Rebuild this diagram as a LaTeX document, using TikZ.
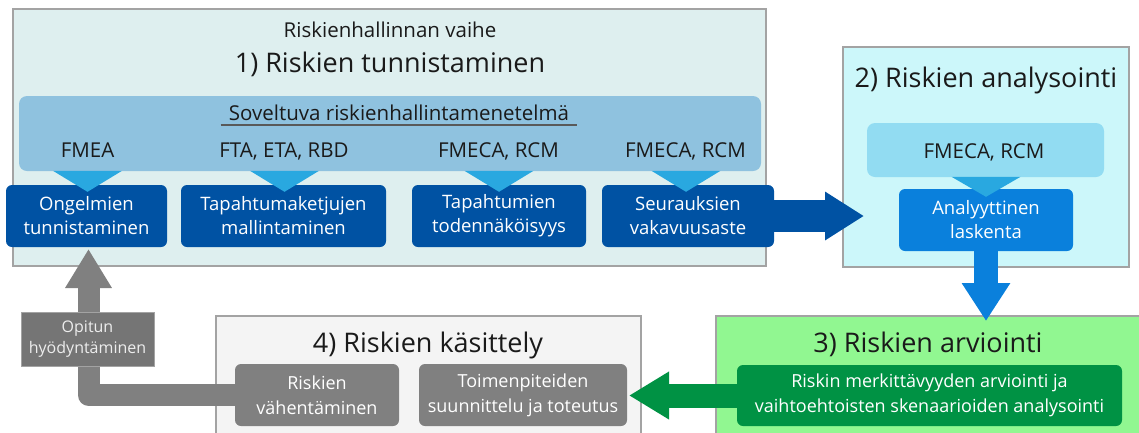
\documentclass[tikz,border=0pt]{standalone}
\usepackage{fontspec}
\setmainfont{Open Sans}
\usetikzlibrary{arrows.meta}

\definecolor{edgegray}{HTML}{A3A3A3}
\definecolor{inkdark}{HTML}{1A1A1A}
\definecolor{phaseone}{HTML}{DEEFEF}
\definecolor{phasetwo}{HTML}{CCF7FA}
\definecolor{phasethree}{HTML}{91F791}
\definecolor{phasefour}{HTML}{F4F4F4}
\definecolor{methodband}{HTML}{8FC2DF}
\definecolor{methodbandlight}{HTML}{92DCF2}
\definecolor{pointer}{HTML}{29A8E0}
\definecolor{stageblue}{HTML}{0052A3}
\definecolor{calcblue}{HTML}{0A80DC}
\definecolor{evalgreen}{HTML}{009244}
\definecolor{treatgray}{HTML}{808080}
\definecolor{lessongray}{HTML}{757575}

\newcommand\lblfont{\fontsize{20.5}{24}\selectfont}
\newcommand\ttlfont{\fontsize{27}{32}\selectfont}
\newcommand\bxfont{\fontsize{18.5}{24}\selectfont}
\newcommand\smfont{\fontsize{16}{21.5}\selectfont}

\begin{document}
\begin{tikzpicture}[x=1pt,y=-1pt,
  panel/.style={draw=edgegray, line width=1.3pt, inner sep=0pt},
  band/.style={rounded corners=8pt, inner sep=0pt},
  stagebox/.style={rounded corners=6pt, inner sep=0pt, text=white, align=center, font=\bxfont},
  lbl/.style={anchor=base, inner sep=0pt, text=inkdark, font=\lblfont},
  ttl/.style={anchor=base, inner sep=0pt, text=inkdark, font=\ttlfont},
  pointerfill/.style={fill=pointer},
  fatarrow/.style={line cap=butt, line join=round}
]
\useasboundingbox (0,0) rectangle (1139,432);
\clip (0,0) rectangle (1139,432);

% ---------- phase panels ----------
\node[panel, fill=phaseone, minimum width=753pt, minimum height=257pt] (p1) at (389.5,137.5) {};
\node[panel, fill=phasetwo, minimum width=286pt, minimum height=220pt] (p2) at (986,157) {};
\node[panel, fill=phasefour, minimum width=425pt, minimum height=124pt] (p4) at (428.5,378) {};
\node[panel, fill=phasethree, minimum width=428pt, minimum height=124pt] (p3) at (930,378) {};

% ---------- phase 1: identification ----------
\node[lbl] (phase) at (390,37) {Riskienhallinnan vaihe};
\node[ttl] (t1) at (390,72) {1) Riskien tunnistaminen};

\node[band, fill=methodband, minimum width=742pt, minimum height=75pt] (mb) at (390,133.5) {};
\node[lbl] (sov) at (399,120) {Soveltuva riskienhallintamenetelmä};
\draw[line width=1.4pt, draw=black!65] ([shift={(-8,5)}]sov.base west) -- ([shift={(8,5)}]sov.base east);

\node[lbl] (m1) at (87.5,157) {FMEA};
\node[lbl] (m2) at (284,157) {FTA, ETA, RBD};
\node[lbl] (m3) at (498.5,157) {FMECA, RCM};
\node[lbl] (m4) at (685.5,157) {FMECA, RCM};

\node[stagebox, fill=stageblue, minimum width=161pt, minimum height=62pt] (a) at (86.5,216) {Ongelmien\\tunnistaminen};
\node[stagebox, fill=stageblue, minimum width=205pt, minimum height=62pt] (b) at (283.5,216) {Tapahtumaketjujen\\mallintaminen};
\node[stagebox, fill=stageblue, minimum width=174pt, minimum height=62pt] (c) at (499,216) {Tapahtumien\\todennäköisyys};
\node[stagebox, fill=stageblue, minimum width=172pt, minimum height=62pt] (d) at (688,216) {Seurauksien\\vakavuusaste};

\foreach \n/\dx in {a/1, b/1, c/0, d/-2}{
  \fill[pointerfill] ([shift={(\dx-34.5,-14)}]\n.north) -- ([shift={(\dx+34.5,-14)}]\n.north)
     -- ([shift={(\dx,7)}]\n.north) -- cycle;
}

% ---------- phase 2: analysis ----------
\node[ttl] (t2) at (986,87) {2) Riskien analysointi};
\node[band, fill=methodbandlight, minimum width=237pt, minimum height=54pt] (mb2) at (985.5,150) {};
\node[lbl] (m5) at (984,158) {FMECA, RCM};
\node[stagebox, fill=calcblue, minimum width=174pt, minimum height=62pt] (an) at (986,220) {Analyyttinen\\laskenta};
\fill[pointerfill] ([shift={(-34.5,-12)}]an.north) -- ([shift={(34.5,-12)}]an.north)
     -- ([shift={(0,8)}]an.north) -- cycle;

% ---------- phase 3: evaluation ----------
\node[ttl] (t3) at (928,352) {3) Riskien arviointi};
\node[stagebox, fill=evalgreen, font=\fontsize{18}{25}\selectfont, minimum width=385pt, minimum height=61pt] (g) at (929.5,395.5)
  {Riskin merkittävyyden arviointi ja\\vaihtoehtoisten skenaarioiden analysointi};

% ---------- phase 4: treatment ----------
\node[ttl] (t4) at (428,352) {4) Riskien käsittely};
\node[stagebox, fill=treatgray, font=\fontsize{18}{25}\selectfont, minimum width=164pt, minimum height=62pt] (rv) at (317,395) {Riskien\\vähentäminen};
\node[stagebox, fill=treatgray, font=\fontsize{18}{25}\selectfont, minimum width=208pt, minimum height=62pt] (ts) at (523,395) {Toimenpiteiden\\suunnittelu ja toteutus};

% ---------- flow arrows ----------
\coordinate (tipR) at (864,216);
\coordinate (tipD) at (986,321);
\coordinate (tipL) at (629,395.5);
\coordinate (tipU) at (88.5,249);

\draw[fatarrow, draw=stageblue, line width=32pt,
      -{Triangle[width=46pt,length=39pt]}] (d.east) -- (tipR);
\draw[fatarrow, draw=calcblue, line width=24pt,
      -{Triangle[width=46pt,length=38pt]}] (an.south) -- (tipD);
\draw[fatarrow, draw=evalgreen, line width=24pt,
      -{Triangle[width=45pt,length=40pt]}] (g.west) -- (tipL);
\draw[fatarrow, draw=treatgray, line width=22pt,
      -{Triangle[width=44pt,length=39pt]}] (rv.west) -| (tipU);

% lesson label sitting on the return arrow
\node[draw=edgegray, line width=1pt, fill=lessongray, text=white!93!black, align=center, font=\smfont,
      inner sep=0pt, minimum width=133pt, minimum height=54pt] (op) at (87.5,339) {Opitun\\hyödyntäminen};
\end{tikzpicture}
\end{document}
